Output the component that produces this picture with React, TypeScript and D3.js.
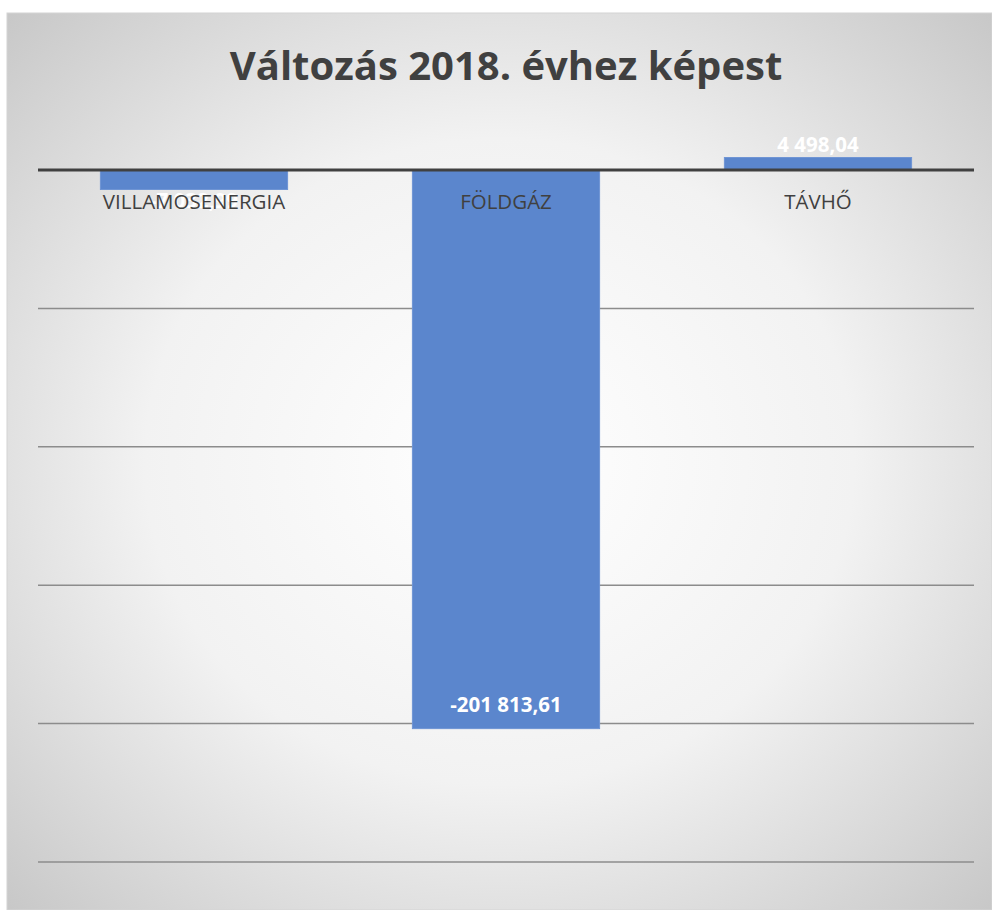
import React from "react";
import * as d3 from "d3";

const categories = ["VILLAMOSENERGIA", "FÖLDGÁZ", "TÁVHŐ"];
const values = [-7032.99, -201813.61, 4498.04];
const valueLabels = ["-7 032,99", "-201 813,61", "4 498,04"];
const gridValues = [-50000, -100000, -150000, -200000, -250000];
const title = "Változás 2018. évhez képest";

export default function App() {
  const W = 992;
  const H = 910;
  const x = d3.scaleBand<string>().domain(categories).range([38, 974]).paddingInner(0.4).paddingOuter(0.2);
  const y = d3.scaleLinear().domain([-250000, 0]).range([862, 170]);
  const font = "'Open Sans', 'Noto Sans', sans-serif";
  return (
    <svg width={W} height={H} style={{ position: "absolute", left: 0, top: 0 }}>
      <defs>
        <radialGradient id="bg" cx="0.5" cy="0.5" r="0.72">
          <stop offset="0" stopColor="#ffffff" />
          <stop offset="0.5" stopColor="#f2f2f2" />
          <stop offset="1" stopColor="#c6c6c6" />
        </radialGradient>
      </defs>
      <rect x={0} y={0} width={W} height={H} fill="#ffffff" />
      <rect x={7} y={13} width={W - 7} height={H - 13} fill="url(#bg)" stroke="#d4d4d4" strokeWidth={1} />
      <text x={506} y={80} textAnchor="middle" fontFamily={font} fontWeight={700} fontSize={40} fill="#404040">
        {title}
      </text>
      {gridValues.map((g) => (
        <line key={g} x1={38} x2={974} y1={y(g)} y2={y(g)} stroke="#8c8c8c" strokeWidth={1.5} />
      ))}
      {categories.map((c, i) => {
        const v = values[i];
        const y0 = y(0);
        const yv = y(v);
        const top = Math.min(y0, yv);
        const h = Math.abs(yv - y0);
        return (
          <rect key={c} x={x(c)} y={top} width={x.bandwidth()} height={h} fill="#5b86cd" stroke="#6e94d4" strokeWidth={1} />
        );
      })}
      {categories.map((c, i) => {
        const v = values[i];
        const cx = (x(c) as number) + x.bandwidth() / 2;
        let ly: number;
        if (v > 0) ly = y(v) - 6;
        else if (Math.abs(y(v) - y(0)) > 40) ly = y(v) - 17;
        else ly = y(v) + 19;
        return (
          <text key={"l" + c} x={cx} y={ly} textAnchor="middle" fontFamily={font} fontWeight={700} fontSize={20.5} fill="#ffffff">
            {valueLabels[i]}
          </text>
        );
      })}
      <line x1={38} x2={974} y1={y(0)} y2={y(0)} stroke="#404040" strokeWidth={3} />
      {categories.map((c) => (
        <text key={"c" + c} x={(x(c) as number) + x.bandwidth() / 2} y={209} textAnchor="middle" fontFamily={font} fontSize={20.5} fill="#404040">
          {c}
        </text>
      ))}
    </svg>
  );
}
